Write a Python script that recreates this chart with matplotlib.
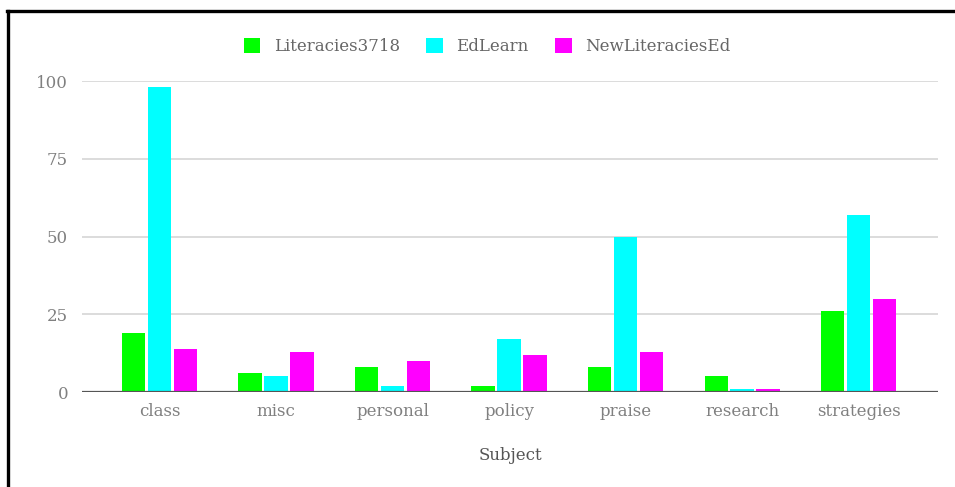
import matplotlib
matplotlib.use("Agg")
import matplotlib.pyplot as plt
from matplotlib.lines import Line2D
import numpy as np

categories = ["class", "misc", "personal", "policy", "praise", "research", "strategies"]
series_names = ["Literacies3718", "EdLearn", "NewLiteraciesEd"]
literacies3718 = [19, 6, 8, 2, 8, 5, 26]
edlearn = [98, 5, 2, 17, 50, 1, 57]
newliteraciesed = [14, 13, 10, 12, 13, 1, 30]
y_ticks = [0, 25, 50, 75, 100]
colors = ["#00ff00", "#00ffff", "#ff00ff"]

plt.rcParams["font.family"] = ["DejaVu Serif"]

fig = plt.figure(figsize=(9.55, 4.87), dpi=100)
ax = fig.add_axes([0.0859, 0.195, 0.8962, 0.6385])

x = np.arange(len(categories))
width = 0.2
step = 0.223
for i, (vals, name, col) in enumerate(zip([literacies3718, edlearn, newliteraciesed], series_names, colors)):
    ax.bar(x + (i - 1) * step, vals, width=width, color=col, label=name, zorder=3)

ax.set_xlim(-0.665, 6.68)
ax.set_ylim(0, 100)
ax.set_yticks(y_ticks)
ax.set_xticks(x)
ax.set_xticklabels(categories)
ax.yaxis.grid(True, color="#d6d6d6", linewidth=1.2, zorder=0)
ax.axhline(0, color="#555555", linewidth=1.6, zorder=4)
for s in ax.spines.values():
    s.set_visible(False)
ax.tick_params(axis="both", length=0, labelsize=12, colors="#808080")
ax.tick_params(axis="y", pad=10)
ax.tick_params(axis="x", pad=8)
ax.set_xlabel("Subject", fontsize=12, color="#555555", labelpad=19)

leg = fig.legend(loc="center", bbox_to_anchor=(0.51, 0.905), ncol=3, frameon=False,
                 fontsize=12, handlelength=1.0, handleheight=1.0, handletextpad=0.8,
                 columnspacing=1.6)
for t in leg.get_texts():
    t.set_color("#666666")

# page frame: left and top edges
fig.add_artist(Line2D([0.0084, 0.0084], [0.0, 0.978], color="black", linewidth=2.4, transform=fig.transFigure))
fig.add_artist(Line2D([0.0072, 1.0], [0.978, 0.978], color="black", linewidth=2.4, transform=fig.transFigure))

fig.savefig("out.png", dpi=100)
